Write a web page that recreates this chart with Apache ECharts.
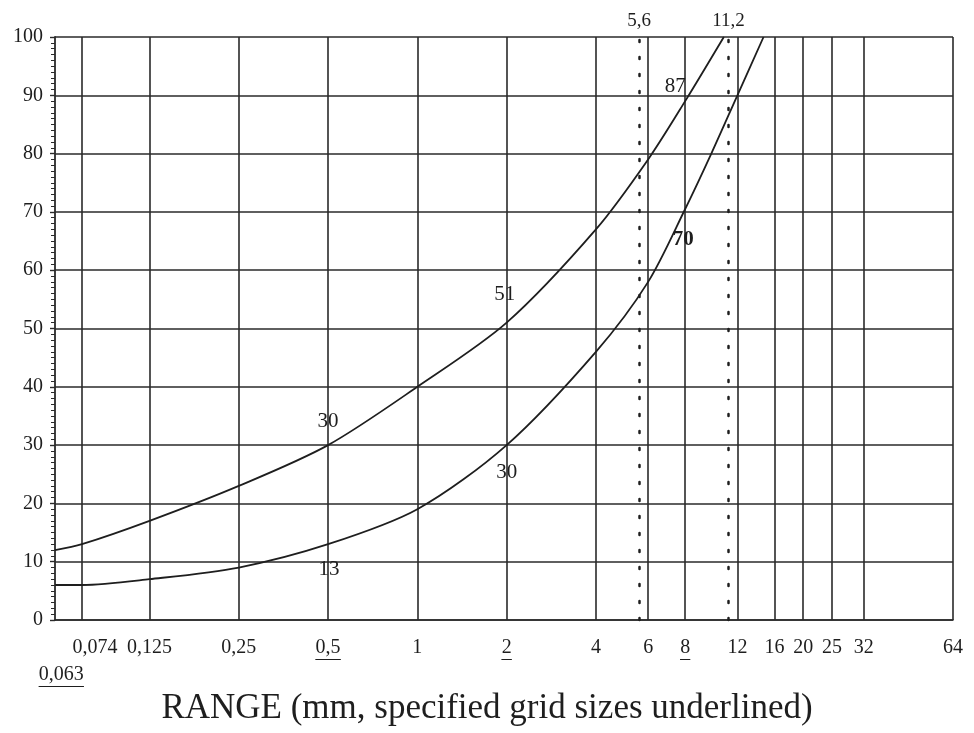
<!DOCTYPE html>
<html><head><meta charset="utf-8">
<script src="https://cdn.jsdelivr.net/npm/echarts@6/dist/echarts.min.js"></script>
<style>html,body{margin:0;padding:0;background:#fff}#c{width:974px;height:733px}</style>
</head><body><div id="c"></div>
<script>
// ---- data ----
const sieveGridSizes = [0.074, 0.125, 0.25, 0.5, 1, 2, 4, 6, 8, 12, 16, 20, 25, 32, 64];
const sieveLabelSizes = [0.074, 0.125, 0.25, 0.5, 1, 2, 4, 6, 8, 12, 16, 20, 25, 32, 64];
const sieveLabelTexts = ['0,074', '0,125', '0,25', '0,5', '1', '2', '4', '6', '8', '12', '16', '20', '25', '32', '64'];
const lowRowSizes = [0.063];
const lowRowTexts = ['0,063'];
const underlinedSizes = [0.063, 0.5, 2, 8];
const dottedSizes = [5.6, 11.2];
const dottedLabels = ['5,6', '11,2'];
const passMin = 0, passMax = 100, passStep = 10;

const upperSize = [0.06, 0.074, 0.125, 0.25, 0.5, 1, 2, 4, 6, 8, 10.8];
const upperPass = [12, 13, 17, 23, 30, 40, 51, 67, 79, 89, 100];
const lowerSize = [0.06, 0.074, 0.125, 0.25, 0.5, 1, 2, 4, 6, 8, 9.8, 12, 14.7];
const lowerPass = [6, 6, 7, 9, 13, 19, 30, 46, 58, 70.5, 80, 90, 100];
const upperNoteSizes = [0.5, 2, 8];
const upperNoteTexts = ['30', '51', '87'];
const lowerNoteSizes = [0.5, 2, 8];
const lowerNoteTexts = ['13', '30', '70'];
const axisTitle = 'RANGE (mm, specified grid sizes underlined)';

// ---- styling helpers ----
const FONT = 'Liberation Serif';
const INK = '#1e1e1e';
function same(a, b) { return Math.abs(a - b) / b < 1e-6; }
function textWidth(s, fs) {
  let w = 0;
  for (const ch of s) w += (ch === ',' ? 0.25 : 0.5) * fs;
  return Math.round(w);
}
const xFS = 20;
function makeRich(texts) {
  const r = {
    t: { fontFamily: FONT, fontSize: xFS, color: INK, lineHeight: 20 },
    s: { fontFamily: FONT, fontSize: xFS, color: INK, lineHeight: 20, padding: [0, 0, 0, 26] }
  };
  texts.forEach((s, i) => {
    r['ul' + i] = { width: textWidth(s, xFS), height: 0, borderColor: INK, borderWidth: 1, lineHeight: 3 };
  });
  return r;
}
function makeFormatter(sizes, texts, shiftFirst) {
  return function (v) {
    const i = sizes.findIndex(s => same(s, v));
    if (i < 0) return '';
    const txt = texts[i];
    const ul = underlinedSizes.some(s => same(s, v));
    if (shiftFirst && i === 0) return '{s|' + txt + '}';
    return '{t|' + txt + '}' + (ul ? '\n{ul' + i + '|}' : '');
  };
}

const labelStyle = { fontFamily: FONT, fontSize: 21, color: INK };
const upperLabelPos = [
  { position: 'top', distance: 13, offset: [0, 0] },
  { position: 'top', distance: 17, offset: [-2, 0] },
  { position: 'top', distance: 4, offset: [-10, 0] }
];
const lowerLabelPos = [
  { position: 'bottom', distance: 14, offset: [1, 0] },
  { position: 'bottom', distance: 16, offset: [0, 0] },
  { position: 'bottom', distance: 20, offset: [-2, 0], fontWeight: 'bold' }
];
function buildData(sizes, pass, noteSizes, noteTexts, posList) {
  return sizes.map((x, i) => {
    const item = { value: [x, pass[i]] };
    const k = noteSizes.findIndex(s => same(s, x));
    if (k >= 0) {
      item.label = Object.assign({ show: true, formatter: noteTexts[k] }, labelStyle, posList[k]);
    }
    return item;
  });
}

const lineCol = '#2a2a2a';
const X_MIN = 0.06, X_MAX = 64;
const lineSeriesBase = {
  type: 'line', smooth: 0.3, showSymbol: true, symbol: 'circle', symbolSize: 1,
  xAxisIndex: 0,
  itemStyle: { color: 'rgba(0,0,0,0)' },
  lineStyle: { color: INK, width: 1.8 },
  label: { show: false }
};
const chart = echarts.init(document.getElementById('c'), null, { renderer: 'canvas' });
chart.setOption({
  animation: false,
  backgroundColor: '#fff',
  title: {
    text: axisTitle, left: 'center', top: 686,
    textStyle: { fontFamily: FONT, fontSize: 35, fontWeight: 'normal', color: INK }
  },
  grid: { left: 55, right: 21, top: 37, bottom: 113, containLabel: false },
  xAxis: [
    {
      type: 'log', logBase: 2, min: X_MIN, max: X_MAX, position: 'bottom',
      axisLine: { show: true, onZero: false, lineStyle: { color: lineCol, width: 1.6 } },
      axisTick: { show: false, customValues: sieveGridSizes },
      splitLine: { show: true, lineStyle: { color: lineCol, width: 1.6 } },
      minorTick: { show: false }, minorSplitLine: { show: false },
      axisLabel: {
        customValues: sieveLabelSizes, formatter: makeFormatter(sieveLabelSizes, sieveLabelTexts, true),
        rich: makeRich(sieveLabelTexts),
        margin: 18, fontFamily: FONT, fontSize: xFS, color: INK, hideOverlap: false
      }
    },
    {
      type: 'log', logBase: 2, min: X_MIN, max: X_MAX, position: 'bottom', offset: 27,
      axisLine: { show: false }, axisTick: { show: false, customValues: lowRowSizes },
      splitLine: { show: false }, minorTick: { show: false },
      axisLabel: {
        customValues: lowRowSizes, formatter: makeFormatter(lowRowSizes, lowRowTexts, false),
        rich: makeRich(lowRowTexts), showMinLabel: true,
        margin: 18, fontFamily: FONT, fontSize: xFS, color: INK
      }
    }
  ],
  yAxis: {
    type: 'value', min: passMin, max: passMax, interval: passStep,
    axisLine: { show: true, lineStyle: { color: lineCol, width: 1.8 } },
    axisTick: { show: true, length: 5, lineStyle: { color: lineCol, width: 1.4 } },
    minorTick: { show: true, splitNumber: 10, length: 4, lineStyle: { color: lineCol, width: 1 } },
    splitLine: { show: true, lineStyle: { color: lineCol, width: 1.6 } },
    axisLabel: { margin: 12, fontFamily: FONT, fontSize: 20, color: INK }
  },
  series: [
    Object.assign({}, lineSeriesBase, {
      name: 'upper',
      data: buildData(upperSize, upperPass, upperNoteSizes, upperNoteTexts, upperLabelPos),
      markLine: {
        silent: true, symbol: 'none',
        lineStyle: { color: INK, width: 2.5, type: [2, 15], cap: 'round' },
        label: { show: true, position: 'end', distance: 6, fontFamily: FONT, fontSize: 19, color: INK },
        data: dottedSizes.map((v, i) => ({ xAxis: v, label: { formatter: dottedLabels[i] } }))
      }
    }),
    Object.assign({}, lineSeriesBase, {
      name: 'lower',
      data: buildData(lowerSize, lowerPass, lowerNoteSizes, lowerNoteTexts, lowerLabelPos)
    })
  ]
});
</script></body></html>
